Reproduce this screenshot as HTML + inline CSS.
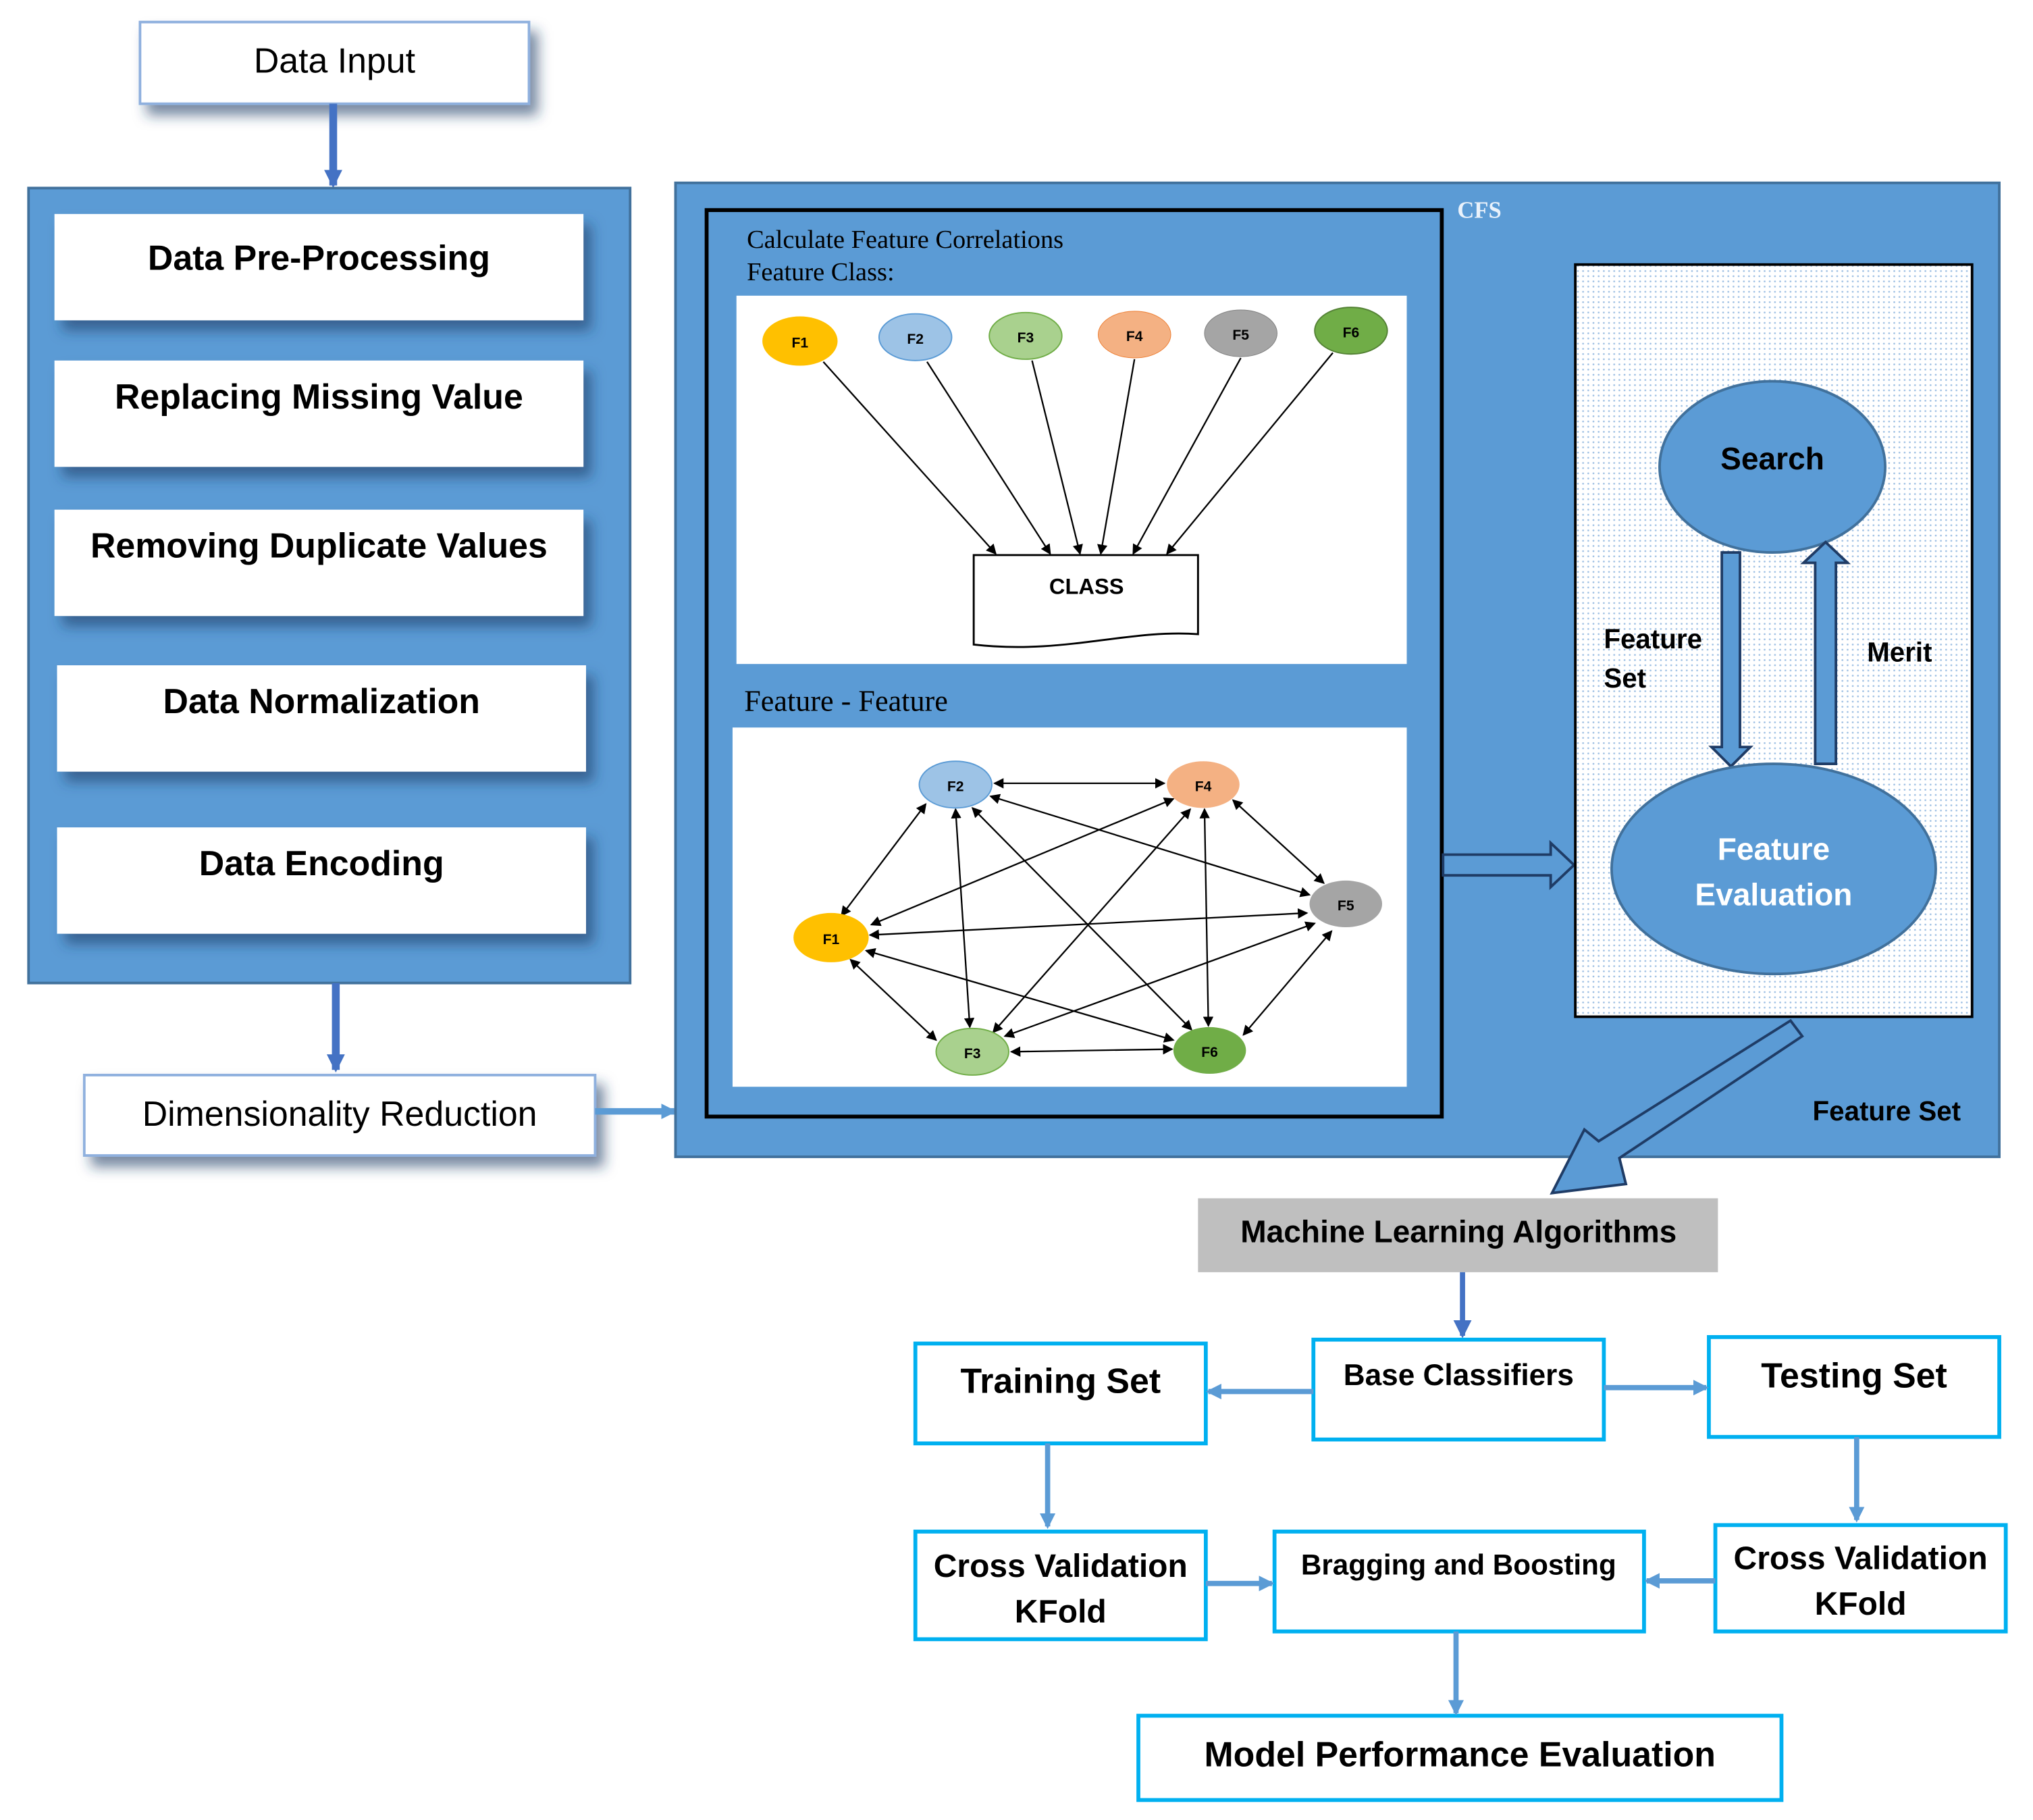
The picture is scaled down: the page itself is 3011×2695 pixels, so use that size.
<!DOCTYPE html>
<html><head><meta charset="utf-8"><style>html,body{margin:0;padding:0;background:#fff}svg{display:block}</style></head><body>
<svg width="3011" height="2695" viewBox="0 0 1568 1403.4" preserveAspectRatio="none" xmlns="http://www.w3.org/2000/svg" font-family="Liberation Sans, sans-serif">
<defs>
<marker id="ah" markerWidth="8" markerHeight="8" refX="7" refY="4" orient="auto-start-reverse" markerUnits="userSpaceOnUse"><path d="M0,0 L8,4 L0,8 z" fill="#000"/></marker>
<marker id="bh" markerWidth="14" markerHeight="14" refX="12" refY="7" orient="auto" markerUnits="userSpaceOnUse"><path d="M0,0 L14,7 L0,14 z" fill="#4472c4"/></marker>
<marker id="lh" markerWidth="12" markerHeight="12" refX="10" refY="6" orient="auto" markerUnits="userSpaceOnUse"><path d="M0,0 L12,6 L0,12 z" fill="#5b9bd5"/></marker>
<pattern id="dots" width="4" height="4" patternUnits="userSpaceOnUse"><rect width="4" height="4" fill="#fff"/><circle cx="1" cy="1" r="0.7" fill="#9dbfe3"/></pattern>
<filter id="sh" x="-10%" y="-20%" width="130%" height="160%"><feDropShadow dx="6" dy="8" stdDeviation="5" flood-color="#1f3c66" flood-opacity="0.6"/></filter>
</defs>
<rect x="108" y="17" width="300" height="63" fill="#fff" stroke="#8fb0de" stroke-width="2" filter="url(#sh)"/>
<text x="258" y="56" font-size="27" text-anchor="middle">Data Input</text>
<line x1="257" y1="80" x2="257" y2="143" stroke="#4472c4" stroke-width="6" marker-end="url(#bh)"/>
<rect x="22" y="145" width="464" height="613" fill="#5b9bd5" stroke="#41719c" stroke-width="2"/>
<g font-weight="bold" font-size="27" text-anchor="middle">
<rect x="42" y="165" width="408" height="82" fill="#fff" filter="url(#sh)"/><text x="246" y="208">Data Pre-Processing</text>
<rect x="42" y="278" width="408" height="82" fill="#fff" filter="url(#sh)"/><text x="246" y="315">Replacing Missing Value</text>
<rect x="42" y="393" width="408" height="82" fill="#fff" filter="url(#sh)"/><text x="246" y="430">Removing Duplicate Values</text>
<rect x="44" y="513" width="408" height="82" fill="#fff" filter="url(#sh)"/><text x="248" y="550">Data Normalization</text>
<rect x="44" y="638" width="408" height="82" fill="#fff" filter="url(#sh)"/><text x="248" y="675">Data Encoding</text>
</g>
<line x1="259" y1="758" x2="259" y2="825" stroke="#4472c4" stroke-width="6" marker-end="url(#bh)"/>
<rect x="65" y="829" width="394" height="62" fill="#fff" stroke="#8fb0de" stroke-width="2" filter="url(#sh)"/>
<text x="262" y="868" font-size="27" text-anchor="middle">Dimensionality Reduction</text>
<line x1="459" y1="857" x2="520" y2="857" stroke="#5b9bd5" stroke-width="5" marker-end="url(#lh)"/>
<rect x="521" y="141" width="1021" height="751" fill="#5b9bd5" stroke="#41719c" stroke-width="2"/>
<text x="1124" y="168" font-family="Liberation Serif, serif" font-weight="bold" font-size="18" fill="#eaf2fb">CFS</text>
<text x="1398" y="864" font-weight="bold" font-size="21">Feature Set</text>
<rect x="545" y="162" width="567" height="699" fill="none" stroke="#000" stroke-width="3"/>
<g font-family="Liberation Serif, serif" font-size="20"><text x="576" y="191">Calculate Feature Correlations</text><text x="576" y="216">Feature Class:</text><text x="574" y="548" font-size="23">Feature - Feature</text></g>
<rect x="568" y="228" width="517" height="284" fill="#fff"/>
<g stroke="#000" stroke-width="1.2" marker-end="url(#ah)">
<line x1="635" y1="279" x2="768" y2="427"/><line x1="715" y1="279" x2="810" y2="427"/><line x1="796" y1="278" x2="833" y2="427"/><line x1="875" y1="277" x2="849" y2="427"/><line x1="957" y1="276" x2="874" y2="427"/><line x1="1028" y1="272" x2="900" y2="427"/>
</g>
<g font-weight="bold" font-size="11" text-anchor="middle">
<ellipse cx="617" cy="263" rx="29" ry="19" fill="#ffc000"/><text x="617" y="268">F1</text>
<ellipse cx="706" cy="260" rx="28" ry="18" fill="#9dc3e6" stroke="#5b9bd5"/><text x="706" y="265">F2</text>
<ellipse cx="791" cy="259" rx="28" ry="18" fill="#a9d18e" stroke="#70ad47"/><text x="791" y="264">F3</text>
<ellipse cx="875" cy="258" rx="28" ry="18" fill="#f4b183" stroke="#ed7d31" stroke-width="0.5"/><text x="875" y="263">F4</text>
<ellipse cx="957" cy="257" rx="28" ry="18" fill="#a5a5a5" stroke="#7f7f7f" stroke-width="0.5"/><text x="957" y="262">F5</text>
<ellipse cx="1042" cy="255" rx="28" ry="18" fill="#70ad47" stroke="#548235"/><text x="1042" y="260">F6</text>
</g>
<path d="M751,428 L924,428 L924,489 C870,485 820,505 751,497 Z" fill="#fff" stroke="#000" stroke-width="1.5"/>
<text x="838" y="458" font-weight="bold" font-size="17" text-anchor="middle">CLASS</text>
<rect x="565" y="561" width="520" height="277" fill="#fff"/>
<g stroke="#000" stroke-width="1.2" marker-end="url(#ah)" marker-start="url(#ah)">
<line x1="767" y1="604" x2="898" y2="604"/>
<line x1="714" y1="620" x2="649" y2="706"/>
<line x1="737" y1="624" x2="748" y2="792"/>
<line x1="750" y1="623" x2="919" y2="794"/>
<line x1="764" y1="614" x2="1010" y2="690"/>
<line x1="905" y1="616" x2="672" y2="713"/>
<line x1="918" y1="624" x2="766" y2="796"/>
<line x1="929" y1="624" x2="932" y2="791"/>
<line x1="951" y1="617" x2="1021" y2="681"/>
<line x1="671" y1="721" x2="1008" y2="704"/>
<line x1="656" y1="740" x2="722" y2="802"/>
<line x1="668" y1="733" x2="905" y2="802"/>
<line x1="780" y1="811" x2="904" y2="809"/>
<line x1="775" y1="799" x2="1014" y2="712"/>
<line x1="959" y1="798" x2="1027" y2="718"/>
</g>
<g font-weight="bold" font-size="11" text-anchor="middle">
<ellipse cx="737" cy="605" rx="28" ry="18" fill="#9dc3e6" stroke="#5b9bd5"/><text x="737" y="610">F2</text>
<ellipse cx="928" cy="605" rx="28" ry="18" fill="#f4b183"/><text x="928" y="610">F4</text>
<ellipse cx="1038" cy="697" rx="28" ry="18" fill="#a5a5a5"/><text x="1038" y="702">F5</text>
<ellipse cx="933" cy="810" rx="28" ry="18" fill="#70ad47"/><text x="933" y="815">F6</text>
<ellipse cx="750" cy="811" rx="28" ry="18" fill="#a9d18e" stroke="#70ad47"/><text x="750" y="816">F3</text>
<ellipse cx="641" cy="723" rx="29" ry="19" fill="#ffc000"/><text x="641" y="728">F1</text>
</g>
<path d="M1113,659 L1196,659 L1196,650 L1214,667 L1196,684 L1196,675 L1113,675 Z" fill="#5b9bd5" stroke="#1f3c66" stroke-width="2"/>
<rect x="1215" y="204" width="306" height="580" fill="url(#dots)" stroke="#000" stroke-width="2"/>
<ellipse cx="1367" cy="360" rx="87" ry="66" fill="#5b9bd5" stroke="#41719c" stroke-width="2"/>
<text x="1367" y="362" font-weight="bold" font-size="24" text-anchor="middle">Search</text>
<path d="M1328,426 L1342,426 L1342,576 L1350,576 L1335,591 L1320,576 L1328,576 Z" fill="#5b9bd5" stroke="#1f3c66" stroke-width="2"/>
<path d="M1400,589 L1416,589 L1416,434 L1425,434 L1408,418 L1391,434 L1400,434 Z" fill="#5b9bd5" stroke="#1f3c66" stroke-width="2"/>
<text x="1237" y="500" font-weight="bold" font-size="21">Feature</text><text x="1237" y="530" font-weight="bold" font-size="21">Set</text>
<text x="1440" y="510" font-weight="bold" font-size="21">Merit</text>
<ellipse cx="1368" cy="670" rx="125" ry="81" fill="#5b9bd5" stroke="#41719c" stroke-width="2"/>
<text x="1368" y="663" font-weight="bold" font-size="24" fill="#fff" text-anchor="middle">Feature</text>
<text x="1368" y="698" font-weight="bold" font-size="24" fill="#fff" text-anchor="middle">Evaluation</text>
<path d="M1381,787 L1390,799 L1249,893 L1254,913 L1197,920 L1222,871 L1233,880 Z" fill="#5b9bd5" stroke="#1f3c66" stroke-width="2"/>
<rect x="924" y="924" width="401" height="57" fill="#bfbfbf"/>
<text x="1125" y="958" font-weight="bold" font-size="24" text-anchor="middle">Machine Learning Algorithms</text>
<line x1="1128" y1="981" x2="1128" y2="1030" stroke="#4472c4" stroke-width="4" marker-end="url(#bh)"/>
<g fill="#fff" stroke="#00b0f0" stroke-width="3">
<rect x="1013" y="1033" width="224" height="77"/><rect x="706" y="1036" width="224" height="77"/><rect x="1318" y="1031" width="224" height="77"/>
<rect x="706" y="1181" width="224" height="83"/><rect x="983" y="1181" width="285" height="77"/><rect x="1323" y="1176" width="224" height="82"/>
<rect x="878" y="1323" width="496" height="65"/>
</g>
<g stroke="#5b9bd5" stroke-width="4">
<line x1="1013" y1="1073" x2="932" y2="1073" marker-end="url(#lh)"/>
<line x1="1237" y1="1070" x2="1316" y2="1070" marker-end="url(#lh)"/>
<line x1="808" y1="1113" x2="808" y2="1177" marker-end="url(#lh)"/>
<line x1="1432" y1="1108" x2="1432" y2="1172" marker-end="url(#lh)"/>
<line x1="930" y1="1221" x2="981" y2="1221" marker-end="url(#lh)"/>
<line x1="1323" y1="1219" x2="1270" y2="1219" marker-end="url(#lh)"/>
<line x1="1123" y1="1258" x2="1123" y2="1321" marker-end="url(#lh)"/>
</g>
<g font-weight="bold" text-anchor="middle">
<text x="1125" y="1068" font-size="23">Base Classifiers</text>
<text x="818" y="1074" font-size="27">Training Set</text>
<text x="1430" y="1070" font-size="27">Testing Set</text>
<text x="818" y="1216" font-size="25">Cross Validation</text><text x="818" y="1251" font-size="25">KFold</text>
<text x="1125" y="1214" font-size="22">Bragging and Boosting</text>
<text x="1435" y="1210" font-size="25">Cross Validation</text><text x="1435" y="1245" font-size="25">KFold</text>
<text x="1126" y="1362" font-size="27">Model Performance Evaluation</text>
</g>
</svg>
</body></html>
